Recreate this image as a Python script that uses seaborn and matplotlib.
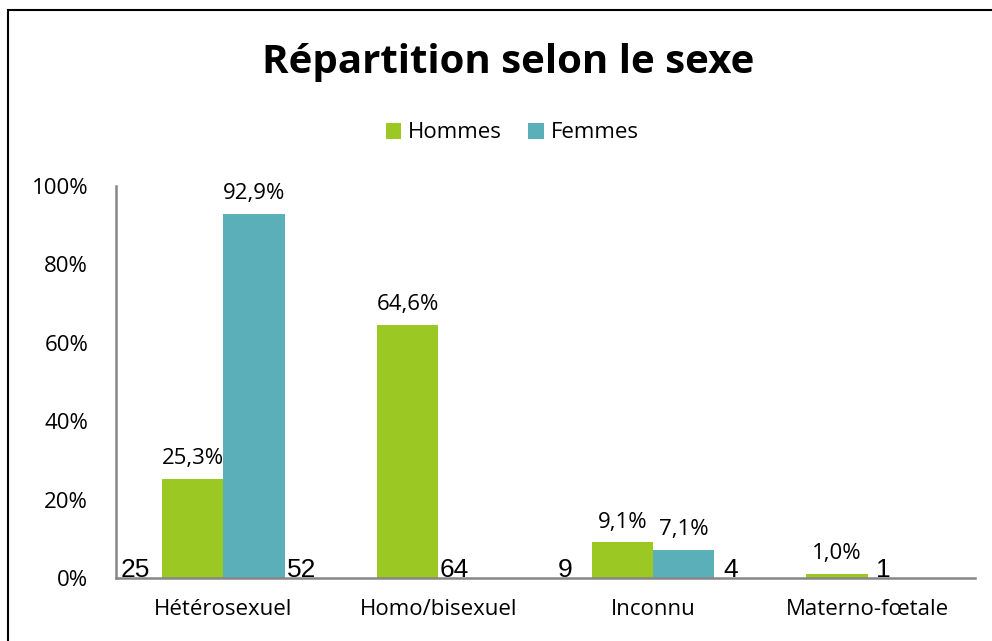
import pandas as pd
import matplotlib.pyplot as plt
import seaborn as sns
from matplotlib.patches import Rectangle

# Data
categories = ['Hétérosexuel', 'Homo/bisexuel', 'Inconnu', 'Materno-fœtale']
hommes_pct = [25.3, 64.6, 9.1, 1.0]
femmes_pct = [92.9, 0.0, 7.1, 0.0]
hommes_n = [25, 64, 9, 1]
femmes_n = [52, None, 4, None]
yticks = [0, 20, 40, 60, 80, 100]

green = '#9BC823'
teal = '#5BAFB9'

df = pd.DataFrame({
    'cat': categories * 2,
    'pct': hommes_pct + femmes_pct,
    'sexe': ['Hommes'] * 4 + ['Femmes'] * 4,
})

sns.set_style('white')
plt.rcParams['font.family'] = ['Open Sans', 'DejaVu Sans']
plt.rcParams['text.color'] = 'black'
plt.rcParams['xtick.color'] = 'black'
plt.rcParams['ytick.color'] = 'black'

fig = plt.figure(figsize=(9.92, 6.41), dpi=100)
ax = fig.add_axes([116 / 992, 1 - 578 / 641, (975 - 116) / 992, (578 - 186) / 641])

sns.barplot(data=df, x='cat', y='pct', hue='sexe', hue_order=['Hommes', 'Femmes'],
            palette=[green, teal], width=0.57, saturation=1, linewidth=0, ax=ax)

ax.set_ylim(0, 100)
ax.set_xlim(-0.5, 3.5)
ax.set_yticks(yticks)
ax.set_yticklabels([f'{v}%' for v in yticks], fontsize=16)
ax.tick_params(axis='y', length=0, pad=20)
ax.tick_params(axis='x', length=0, pad=15, labelsize=16)
ax.set_xlabel('')
ax.set_ylabel('')
for s in ['top', 'right']:
    ax.spines[s].set_visible(False)
for s in ['left', 'bottom']:
    ax.spines[s].set_color('#868686')
    ax.spines[s].set_linewidth(1.8)

# percentage labels
for cont, vals in zip(ax.containers, [hommes_pct, femmes_pct]):
    labels = [f'{v:.1f}%'.replace('.', ',') if v > 0 else '' for v in vals]
    ax.bar_label(cont, labels=labels, padding=7, fontsize=16, color='black')

# count labels at the base
h_bars = ax.containers[0]
f_bars = ax.containers[1]
for i in range(len(categories)):
    hb = h_bars[i]
    fb = f_bars[i]
    if femmes_n[i] is not None:
        ax.annotate(str(hommes_n[i]), (hb.get_x(), 0), xytext=(-19.4, 0.8),
                    textcoords='offset points', ha='center', va='baseline',
                    fontsize=19, family='Liberation Sans')
        ax.annotate(str(femmes_n[i]), (fb.get_x() + fb.get_width(), 0), xytext=(12.2, 0.8),
                    textcoords='offset points', ha='center', va='baseline',
                    fontsize=19, family='Liberation Sans')
    else:
        ax.annotate(str(hommes_n[i]), (hb.get_x() + hb.get_width(), 0), xytext=(11.5, 0.8),
                    textcoords='offset points', ha='center', va='baseline',
                    fontsize=19, family='Liberation Sans')

handles, labels = ax.get_legend_handles_labels()
ax.get_legend().remove()
fig.legend(handles, labels, loc='center', bbox_to_anchor=(512 / 992, 1 - 133 / 641),
           ncol=2, frameon=False, fontsize=16, handlelength=0.7, handleheight=0.7,
           handletextpad=0.3, columnspacing=1.2)

fig.text(508 / 992, 1 - 62 / 641, 'Répartition selon le sexe', ha='center', va='center',
         fontsize=29, fontweight='bold', color='black')

fig.patches.append(Rectangle((8 / 992, -0.05), 1.2, 1 - 10 / 641 + 0.05,
                             transform=fig.transFigure, fill=False, edgecolor='black',
                             linewidth=1.5, figure=fig))

fig.savefig('out.png', dpi=100)
